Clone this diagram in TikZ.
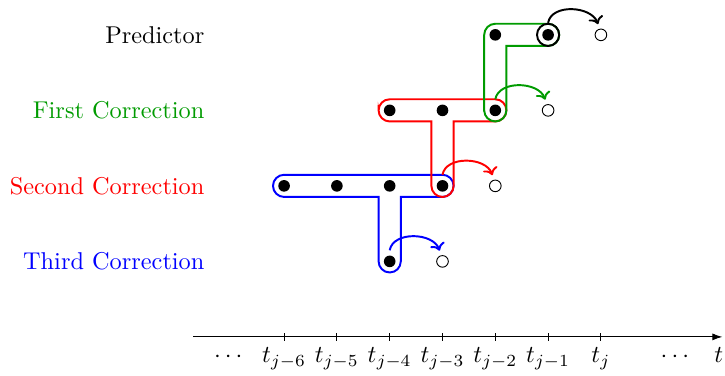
\documentclass[tikz,border=0pt]{standalone}
\usepackage{amsmath}
\usepackage{tikz}
\usetikzlibrary{arrows.meta}
\usepackage{xcolor}
\definecolor{CorrGreen}{RGB}{0,155,0}

\begin{document}
\begin{tikzpicture}[
  lbl/.style={anchor=east, inner sep=0pt, scale=1.31},
  tlbl/.style={anchor=base, scale=1.31},
  dot/.style={circle, fill=black, inner sep=0pt, minimum size=0.22cm, outer sep=0.1cm},
  hollow/.style={circle, draw, fill=white, inner sep=0pt, minimum size=0.22cm, outer sep=0.1cm, line width=0.5pt},
  ringmark/.style={circle, draw, inner sep=0pt, minimum size=0.42cm, line width=1.05pt},
  band/.style={line width=1.05pt},
  arr/.style={->, line width=1.05pt},
]
\useasboundingbox (-5.38,-0.74) rectangle (8.35,6.38);
% row labels
\node[lbl] (lpred) at (-1.5,5.72) {Predictor};
\node[lbl, text=CorrGreen] (lfirst) at (-1.5,4.29) {First Correction};
\node[lbl, text=red] (lsecond) at (-1.5,2.86) {Second Correction};
\node[lbl, text=blue] (lthird) at (-1.5,1.43) {Third Correction};
% stencils
\draw[band, blue] (-0.21,2.86) arc[start angle=180, end angle=90, radius=0.21] -- (3,3.07)
  arc[start angle=90, end angle=-90, radius=0.21] -- (2.21,2.65) -- (2.21,1.43)
  arc[start angle=0, end angle=-180, radius=0.21] -- (1.79,2.65) -- (0,2.65)
  arc[start angle=270, end angle=180, radius=0.21] -- cycle;
\draw[band, red] (1.79,4.29) arc[start angle=180, end angle=90, radius=0.21] -- (4,4.50)
  arc[start angle=90, end angle=-90, radius=0.21] -- (3.21,4.08) -- (3.21,2.86)
  arc[start angle=0, end angle=-180, radius=0.21] -- (2.79,4.08) -- (2,4.08)
  arc[start angle=270, end angle=180, radius=0.21] -- cycle;
\draw[band, CorrGreen] (3.79,4.29) -- (3.79,5.72) arc[start angle=180, end angle=90, radius=0.21]
  -- (5,5.93) arc[start angle=90, end angle=-90, radius=0.21] -- (4.21,5.51) -- (4.21,4.29)
  arc[start angle=0, end angle=-180, radius=0.21] -- cycle;
% predictor
\node[dot] (pd4) at (4,5.72) {};
\node[dot] (pd5) at (5,5.72) {};
\node[hollow] (po6) at (6,5.72) {};
\node[ringmark] (ring) at (pd5) {};
% first correction
\node[dot] (fd2) at (2,4.29) {};
\node[dot] (fd3) at (3,4.29) {};
\node[dot] (fd4) at (4,4.29) {};
\node[hollow] (fo5) at (5,4.29) {};
% second correction
\node[dot] (sd0) at (0,2.86) {};
\node[dot] (sd1) at (1,2.86) {};
\node[dot] (sd2) at (2,2.86) {};
\node[dot] (sd3) at (3,2.86) {};
\node[hollow] (so4) at (4,2.86) {};
% third correction
\node[dot] (td2) at (2,1.43) {};
\node[hollow] (to3) at (3,1.43) {};
% steps
\draw[arr] (ring.north) to[out=80, in=110] (po6.105);
\draw[arr, CorrGreen] (fd4.north) to[out=80, in=110] (fo5.105);
\draw[arr, red] (sd3.north) to[out=80, in=110] (so4.105);
\draw[arr, blue] (td2.north) to[out=80, in=110] (to3.105);
% time axis
\coordinate (ax0) at (-1.72,0);
\coordinate (ax1) at (8.3,0);
\draw[-{Latex[length=5.4pt, width=3.8pt]}, line width=0.5pt] (ax0) -- (ax1);
\draw[line width=0.5pt] (0,0.07) -- (0,-0.07) (1,0.07) -- (1,-0.07) (2,0.07) -- (2,-0.07)
  (3,0.07) -- (3,-0.07) (4,0.07) -- (4,-0.07) (5,0.07) -- (5,-0.07) (6,0.07) -- (6,-0.07);
\node[tlbl] (dl) at (-1.02,-0.49) {$\cdots$};
\node[tlbl] (k6) at (0,-0.49) {$t_{j-6}$};
\node[tlbl] (k5) at (1,-0.49) {$t_{j-5}$};
\node[tlbl] (k4) at (2,-0.49) {$t_{j-4}$};
\node[tlbl] (k3) at (3,-0.49) {$t_{j-3}$};
\node[tlbl] (k2) at (4,-0.49) {$t_{j-2}$};
\node[tlbl] (k1) at (5,-0.49) {$t_{j-1}$};
\node[tlbl] (k0) at (6,-0.49) {$t_j$};
\node[tlbl] (dr) at (7.44,-0.49) {$\cdots$};
\node[tlbl] (tl) at (8.23,-0.49) {$t$};
\end{tikzpicture}
\end{document}
